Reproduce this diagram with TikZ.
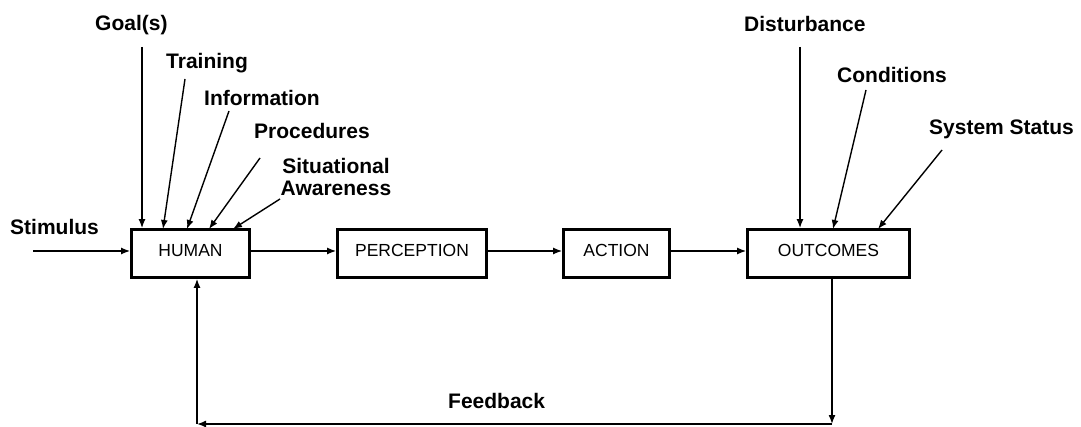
\documentclass[tikz,border=0pt]{standalone}
\usepackage{fontspec}
\setmainfont{Liberation Sans}
\usetikzlibrary{arrows.meta}
\begin{document}
\begin{tikzpicture}[x=1pt,y=-1pt,
  lbl/.style={font=\fontsize{21}{24}\selectfont\bfseries, inner sep=0pt},
  box/.style={draw, line width=3.3pt, minimum height=47.5pt, inner sep=0pt,
    text height=12.5pt, text depth=6pt, font=\fontsize{17.5}{20}\selectfont},
  arr/.style={line width=1.4pt, -{Latex[length=9pt,width=7pt]}}]
\useasboundingbox (0,0) rectangle (1081,427);
% boxes
\node[box, minimum width=117.5pt] (human) at (190.5,253.5) {HUMAN};
\node[box, minimum width=148.5pt] (perc) at (412,253.5) {PERCEPTION};
\node[box, minimum width=105.5pt] (act) at (616.5,253.5) {ACTION};
\node[box, minimum width=161.5pt] (outc) at (828.5,253.5) {OUTCOMES};
% labels
\node[lbl, anchor=base west] (stim) at (10,235) {Stimulus};
\node[lbl, anchor=base west] (goal) at (95,31) {Goal(s)};
\node[lbl, anchor=base west] (train) at (166,69) {Training};
\node[lbl, anchor=base west] (info) at (204,106) {Information};
\node[lbl, anchor=base west] (proc) at (254,138.5) {Procedures};
\node[lbl, anchor=base, align=center] (sit) at (336,196) {Situational\\[-1.3pt]Awareness};
\node[lbl, anchor=base west] (dist) at (744,32) {Disturbance};
\node[lbl, anchor=base west] (cond) at (837,83) {Conditions};
\node[lbl, anchor=base west] (sys) at (929,135) {System Status};
\node[lbl, anchor=base west] (fb) at (448,408) {Feedback};
% connector end points
\coordinate (s0) at (33,251);
\coordinate (g0) at (142,47);
\coordinate (t0) at (185,79);  \coordinate (t1) at (163,229);
\coordinate (i0) at (229,111); \coordinate (i1) at (187,229);
\coordinate (p0) at (260,158); \coordinate (p1) at (209,229);
\coordinate (a0) at (280,199); \coordinate (a1) at (233,229);
\coordinate (d0) at (800,47);
\coordinate (c0) at (866,90);  \coordinate (c1) at (833,229);
\coordinate (y0) at (942,150); \coordinate (y1) at (878,229);
\coordinate (fb1) at (832,424);
\coordinate (fb2) at (197,424);
% inputs to HUMAN
\draw[arr] (s0) -- (s0 -| human.west);
\draw[arr] (g0) -- (g0 |- human.north);
\draw[arr] (t0) -- (t1);
\draw[arr] (i0) -- (i1);
\draw[arr] (p0) -- (p1);
\draw[arr] (a0) -- (a1);
% chain
\draw[arr] ([yshift=2.5pt]human.east) -- ([yshift=2.5pt]perc.west);
\draw[arr] ([yshift=2.5pt]perc.east) -- ([yshift=2.5pt]act.west);
\draw[arr] ([yshift=2.5pt]act.east) -- ([yshift=2.5pt]outc.west);
% inputs to OUTCOMES
\draw[arr] (d0) -- (d0 |- outc.north);
\draw[arr] (c0) -- (c1);
\draw[arr] (y0) -- (y1);
% feedback
\draw[arr] (fb1 |- outc.south) -- (fb1);
\draw[arr] (fb1) -- (fb2);
\draw[arr] (fb2) -- (fb2 |- human.south);
\end{tikzpicture}
\end{document}
